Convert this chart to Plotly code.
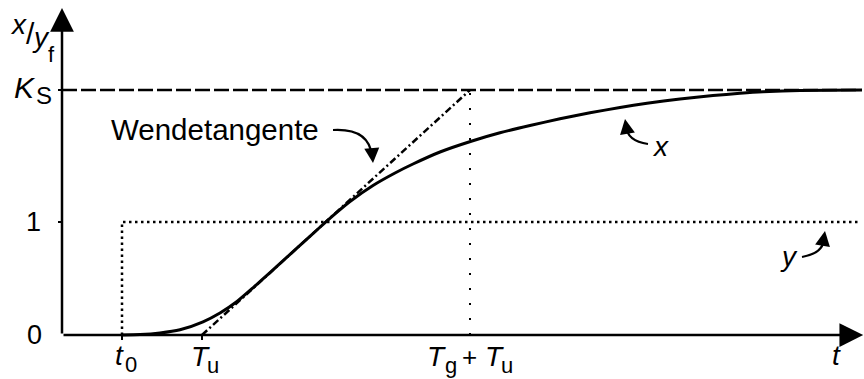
import plotly.graph_objects as go

# --- chart values -------------------------------------------------------
K_S = 2.168         # steady-state gain level
t_0 = 1.5           # step instant
T_u = 3.5           # delay time (tangent meets zero line)
T_gu = 10.2         # T_g + T_u (tangent reaches K_S)
t_end = 19.95       # right end of plotted lines

# step input y
step_t = [t_0, t_0, t_end]
step_y = [0.0, 1.0, 1.0]

# step response x
resp_t = [1.5, 1.95, 2.45, 2.95, 3.525, 3.95, 4.375, 4.775, 5.2, 5.625, 6.025,
          6.4, 6.775, 7.2, 7.775, 8.325, 8.775, 9.45, 10.25, 10.95, 11.7, 12.45,
          13.2, 13.95, 14.625, 15.45, 16.275, 16.95, 17.525, 18.45, 20.0]
resp_x = [0.0, 0.0035, 0.0177, 0.046, 0.1168, 0.1947, 0.2965, 0.4177, 0.5522,
          0.6885, 0.8177, 0.9381, 1.0566, 1.1814, 1.323, 1.4336, 1.5133, 1.6195,
          1.7168, 1.7894, 1.854, 1.9133, 1.9664, 2.0133, 2.0504, 2.0885, 2.1186,
          2.1389, 2.1522, 2.1628, 2.1681]

# inflection tangent
tang_t = [T_u, T_gu]
tang_x = [0.0, K_S]

# --- canvas geometry ----------------------------------------------------
W, H = 864, 379
X_RANGE = [-1.55, 20.05]
Y_RANGE = [-0.3894, 2.9646]
FONT = "Liberation Sans, Arial, sans-serif"


def px_x(px):
    return X_RANGE[0] + (X_RANGE[1] - X_RANGE[0]) * px / W


def px_y(py):
    return Y_RANGE[1] - (Y_RANGE[1] - Y_RANGE[0]) * py / H


fig = go.Figure()

fig.add_trace(go.Scatter(x=step_t, y=step_y, mode="lines",
                         line=dict(color="black", width=2.5, dash="2.5px,3.5px")))
fig.add_trace(go.Scatter(x=[0, t_end], y=[K_S, K_S], mode="lines",
                         line=dict(color="black", width=2.5, dash="15px,4px")))
fig.add_trace(go.Scatter(x=[T_gu, T_gu], y=[0, K_S], mode="lines",
                         line=dict(color="black", width=2, dash="2px,13px")))
fig.add_trace(go.Scatter(x=tang_t, y=tang_x, mode="lines",
                         line=dict(color="black", width=2.5, dash="7px,3px,2px,3px")))
fig.add_trace(go.Scatter(x=resp_t, y=resp_x, mode="lines",
                         line=dict(color="black", width=3, shape="spline", smoothing=0.6)))

shapes = []
annotations = []

# axes with arrow heads
annotations.append(dict(x=20.03, y=0, ax=0, ay=0, xref="x", yref="y", axref="x", ayref="y",
                        text="", showarrow=True, arrowhead=2, arrowsize=1.9,
                        arrowwidth=2.5, arrowcolor="black"))
annotations.append(dict(x=0, y=2.894, ax=0, ay=0, xref="x", yref="y", axref="x", ayref="y",
                        text="", showarrow=True, arrowhead=2, arrowsize=1.9,
                        arrowwidth=2.5, arrowcolor="black"))

# small ticks
for tv in (t_0, T_u):
    shapes.append(dict(type="line", xref="x", yref="y", x0=tv, x1=tv, y0=0, y1=-0.045,
                       line=dict(color="black", width=2)))
for yv in (1.0, K_S):
    shapes.append(dict(type="line", xref="x", yref="y", x0=-0.1, x1=0, y0=yv, y1=yv,
                       line=dict(color="black", width=2)))


def label(text, px, py, size, italic=False):
    if italic:
        text = "<i>" + text + "</i>"
    annotations.append(dict(x=px / W, y=1 - py / H, xref="paper", yref="paper",
                            text=text, showarrow=False, xanchor="center", yanchor="middle",
                            borderpad=0,
                            font=dict(family=FONT, size=size, color="black")))


# y-axis labels
label("0", 34, 335, 27)
label("1", 33, 222, 27)
label("K", 25, 88, 30, italic=True)
label("S", 44, 95, 24)
# axis title x/y_f
label("x", 18, 24, 28, italic=True)
label("/", 30, 33, 30)
label("y", 41, 38, 28, italic=True)
label("f", 51, 55, 22)

# x-axis labels
label("t", 119, 355, 28, italic=True)
label("0", 131, 364, 22)
label("T", 200, 356, 28, italic=True)
label("u", 213, 365, 22)
label("T", 436, 356, 28, italic=True)
label("g", 451, 365, 22)
label("+", 469, 357, 26)
label("T", 494, 356, 28, italic=True)
label("u", 507, 365, 22)
label("t", 836, 355, 28, italic=True)

# curve labels
label("Wendetangente", 215, 129, 29.5)
label("x", 660, 146, 28, italic=True)
label("y", 789, 256, 28, italic=True)


# curved pointer arrows
def curved_arrow(p0, c, p1, head, back):
    path = "M {},{} Q {},{} {},{}".format(px_x(p0[0]), px_y(p0[1]), px_x(c[0]), px_y(c[1]),
                                         px_x(p1[0]), px_y(p1[1]))
    shapes.append(dict(type="path", xref="x", yref="y", path=path,
                       line=dict(color="black", width=2.2)))
    annotations.append(dict(x=px_x(head[0]), y=px_y(head[1]), xref="x", yref="y",
                            ax=back[0], ay=back[1], text="", showarrow=True,
                            arrowhead=2, arrowsize=1.5, arrowwidth=2, arrowcolor="black"))


curved_arrow((333, 130), (369, 128), (372, 156), (373, 163), (-1, -12))
curved_arrow((648, 144), (627, 141), (626, 126), (625, 119), (2, 12))
curved_arrow((802, 257), (824, 253), (824, 238), (825, 231), (-2, 12))

fig.update_layout(
    width=W, height=H,
    margin=dict(l=0, r=0, t=0, b=0),
    paper_bgcolor="white", plot_bgcolor="white",
    showlegend=False,
    xaxis=dict(range=X_RANGE, visible=False, fixedrange=True),
    yaxis=dict(range=Y_RANGE, visible=False, fixedrange=True),
    shapes=shapes,
    annotations=annotations,
)

fig.write_html("out.html", config={"displayModeBar": False})
